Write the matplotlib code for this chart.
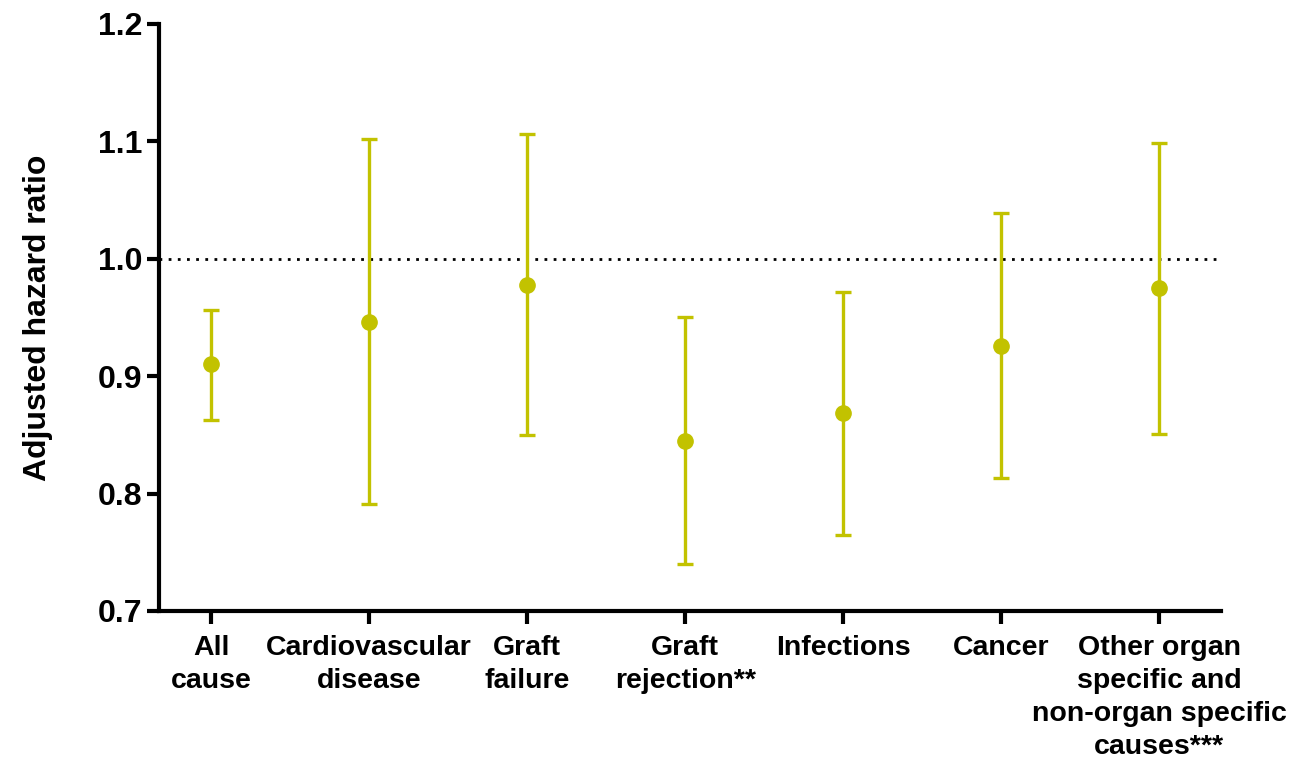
import matplotlib
matplotlib.use("Agg")
import matplotlib.pyplot as plt

# values
categories = ["All\ncause", "Cardiovascular\ndisease", "Graft\nfailure", "Graft\nrejection**",
              "Infections", "Cancer", "Other organ\nspecific and\nnon-organ specific\ncauses***"]
hazard = [0.910, 0.946, 0.978, 0.845, 0.869, 0.926, 0.975]
ci_low = [0.863, 0.791, 0.850, 0.740, 0.765, 0.813, 0.851]
ci_high = [0.956, 1.102, 1.106, 0.950, 0.972, 1.039, 1.099]
yticks = [0.7, 0.8, 0.9, 1.0, 1.1, 1.2]

COLOR = "#C2C200"

def main():
    plt.rcParams["font.family"] = ["Liberation Sans", "DejaVu Sans"]
    plt.rcParams["font.weight"] = "bold"

    fig = plt.figure(figsize=(13.05, 7.59), dpi=100)
    ax = fig.add_axes([0.1218, 0.195, 0.9356 - 0.1218, 0.9684 - 0.195])

    x = list(range(len(categories)))
    err_lo = [h - l for h, l in zip(hazard, ci_low)]
    err_hi = [u - h for h, u in zip(hazard, ci_high)]
    ax.errorbar(x, hazard, yerr=[err_lo, err_hi], fmt="o", color=COLOR,
                markersize=11, elinewidth=2.4, capsize=5.6, capthick=2.4, zorder=3)

    # reference line at 1
    ax.axhline(1.0, color="black", linewidth=2, linestyle=(0, (1, 2.3)), zorder=1)

    ax.set_xlim(-0.33, 6.39)
    ax.set_ylim(0.7, 1.2)
    ax.set_yticks(yticks)
    ax.set_yticklabels([f"{v:.1f}" for v in yticks], fontsize=23, fontweight="bold")
    ax.set_xticks(x)
    ax.set_xticklabels(categories, fontsize=20.5, fontweight="bold", linespacing=1.35)
    ax.set_ylabel("Adjusted hazard ratio", fontsize=23, fontweight="bold", labelpad=32)

    for side in ["top", "right"]:
        ax.spines[side].set_visible(False)
    for side in ["left", "bottom"]:
        ax.spines[side].set_linewidth(3)
    ax.tick_params(axis="both", width=3, length=9, color="black")
    ax.tick_params(axis="y", pad=3)
    ax.tick_params(axis="x", pad=8)

    fig.savefig("out.png", dpi=100)

if __name__ == "__main__":
    main()
